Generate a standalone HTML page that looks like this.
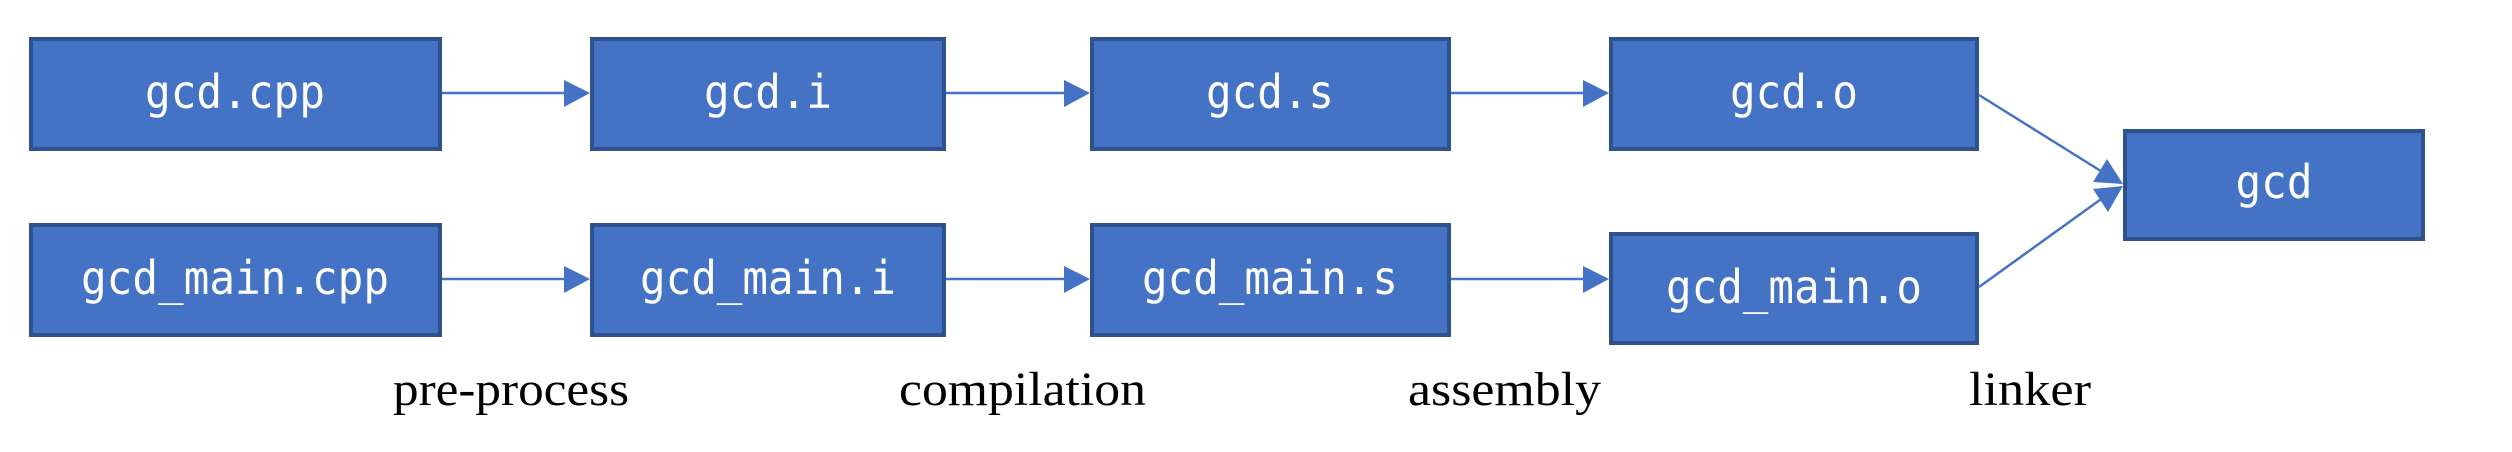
<!DOCTYPE html>
<html><head><meta charset="utf-8"><style>
html,body{margin:0;padding:0;background:#fff;}
svg{display:block;}
.b{fill:#4472C4;stroke:#2F528F;stroke-width:4;}
.t{font-family:"DejaVu Sans Mono","Liberation Mono",monospace;font-size:46px;fill:#fff;text-anchor:middle;dominant-baseline:central;}
.l{font-family:"Liberation Serif","Times New Roman",serif;font-size:48px;fill:#000;}
.a{stroke:#4472C4;stroke-width:2.5;fill:none;}
.h{fill:#4472C4;}
</style></head><body>
<svg width="2512" height="452" viewBox="0 0 2512 452" xmlns="http://www.w3.org/2000/svg">
<rect class="b" x="31" y="39" width="409" height="110"/>
<text class="t" x="235" y="92" textLength="180" lengthAdjust="spacingAndGlyphs">gcd.cpp</text>
<rect class="b" x="592" y="39" width="352" height="110"/>
<text class="t" x="768" y="92" textLength="128" lengthAdjust="spacingAndGlyphs">gcd.i</text>
<rect class="b" x="1092" y="39" width="357" height="110"/>
<text class="t" x="1270" y="92" textLength="128" lengthAdjust="spacingAndGlyphs">gcd.s</text>
<rect class="b" x="1611" y="39" width="366" height="110"/>
<text class="t" x="1794" y="92" textLength="128" lengthAdjust="spacingAndGlyphs">gcd.o</text>
<rect class="b" x="31" y="225" width="409" height="110"/>
<text class="t" x="235" y="278" textLength="308" lengthAdjust="spacingAndGlyphs">gcd_main.cpp</text>
<rect class="b" x="592" y="225" width="352" height="110"/>
<text class="t" x="768" y="278" textLength="256" lengthAdjust="spacingAndGlyphs">gcd_main.i</text>
<rect class="b" x="1092" y="225" width="357" height="110"/>
<text class="t" x="1270" y="278" textLength="256" lengthAdjust="spacingAndGlyphs">gcd_main.s</text>
<rect class="b" x="1611" y="234" width="366" height="109"/>
<text class="t" x="1794" y="287" textLength="256" lengthAdjust="spacingAndGlyphs">gcd_main.o</text>
<rect class="b" x="2125" y="131" width="298" height="108"/>
<text class="t" x="2274" y="182" textLength="77" lengthAdjust="spacingAndGlyphs">gcd</text>
<line class="a" x1="442" y1="93" x2="566" y2="93"/><polygon class="h" points="564,80 590,93 564,107"/>
<line class="a" x1="946" y1="93" x2="1066" y2="93"/><polygon class="h" points="1064,80 1090,93 1064,107"/>
<line class="a" x1="1451" y1="93" x2="1585" y2="93"/><polygon class="h" points="1583,80 1609,93 1583,107"/>
<line class="a" x1="442" y1="279" x2="566" y2="279"/><polygon class="h" points="564,266 590,279 564,293"/>
<line class="a" x1="946" y1="279" x2="1066" y2="279"/><polygon class="h" points="1064,266 1090,279 1064,293"/>
<line class="a" x1="1451" y1="279" x2="1585" y2="279"/><polygon class="h" points="1583,266 1609,279 1583,293"/>
<line class="a" x1="1979" y1="95" x2="2104" y2="173"/>
<polygon class="h" points="2123,184 2093,182 2107,159"/>
<line class="a" x1="1979" y1="287" x2="2104" y2="197"/>
<polygon class="h" points="2123,186 2108,212 2093,189"/>
<text class="l" x="393" y="405" textLength="236" lengthAdjust="spacingAndGlyphs">pre-process</text>
<text class="l" x="899" y="405" textLength="247" lengthAdjust="spacingAndGlyphs">compilation</text>
<text class="l" x="1408" y="405" textLength="193" lengthAdjust="spacingAndGlyphs">assembly</text>
<text class="l" x="1969" y="405" textLength="122" lengthAdjust="spacingAndGlyphs">linker</text>
</svg>
</body></html>
